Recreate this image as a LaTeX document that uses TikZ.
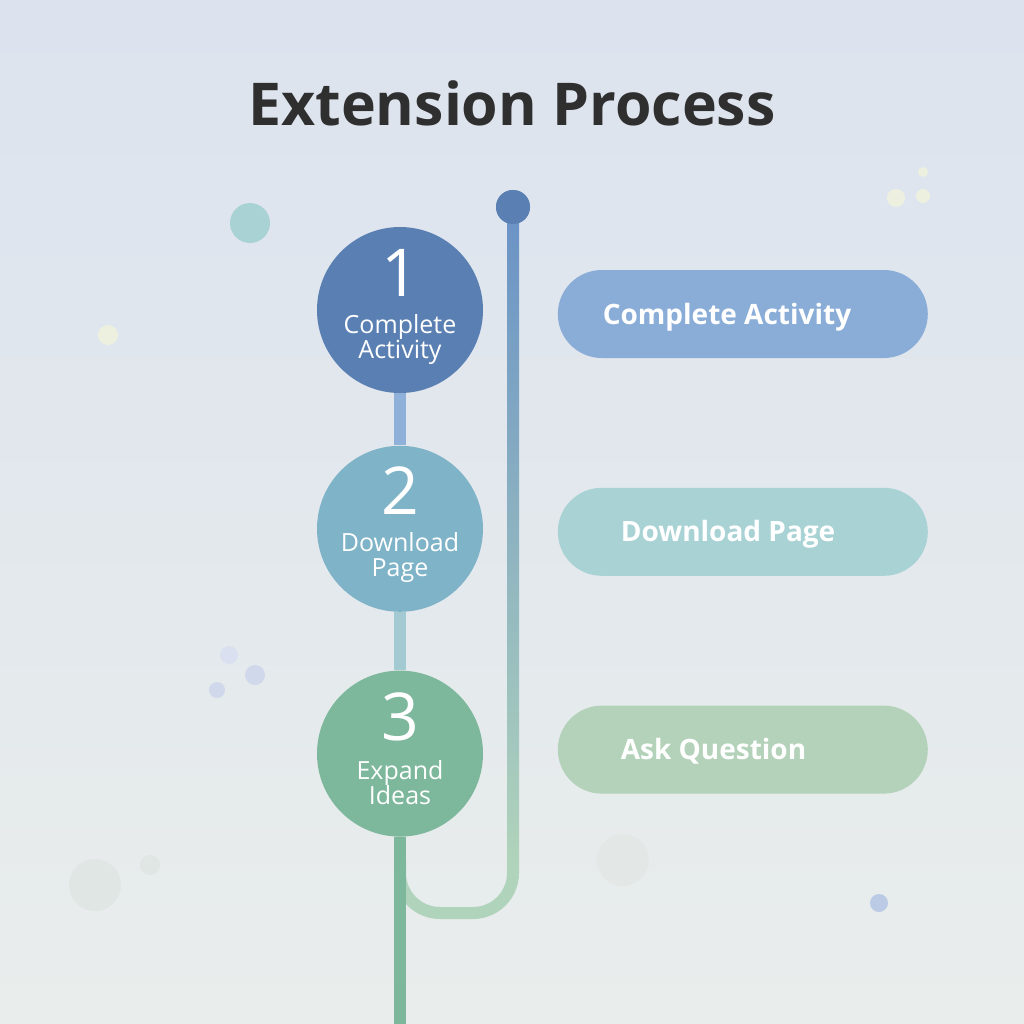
\documentclass[tikz,border=0pt]{standalone}
\usepackage{fontspec}
\setmainfont{Open Sans}
\usetikzlibrary{positioning}
\definecolor{bgtop}{HTML}{DCE3EE}
\definecolor{bgmid}{HTML}{E5E9EF}
\definecolor{bgbot}{HTML}{E9EDEC}
\definecolor{titlegray}{HTML}{2F2F2F}
\definecolor{stepblue}{HTML}{5A80B3}
\definecolor{stepteal}{HTML}{7FB3C7}
\definecolor{stepgreen}{HTML}{7DB79C}
\definecolor{pillblue}{HTML}{8AADD8}
\definecolor{pillteal}{HTML}{A9D2D5}
\definecolor{pillgreen}{HTML}{B4D2BA}
\definecolor{linkblue}{HTML}{8FB1D9}
\definecolor{linkteal}{HTML}{A3CAD2}
\definecolor{railtop}{HTML}{6A92C6}
\definecolor{railmid}{HTML}{9FC0D8}
\definecolor{railbot}{HTML}{B0D3BB}
\definecolor{dotpale}{HTML}{EEF0DF}
\definecolor{dotgray}{HTML}{E0E6E4}
\definecolor{dotlav}{HTML}{D0D8EB}
\begin{document}
\begin{tikzpicture}[
x=0.5pt, y=-0.5pt,
node distance=26pt and 37pt,
stepcirc/.style={circle, minimum size=83pt, inner sep=0pt},
num/.style={text=white, inner sep=0pt, font=\fontsize{33}{33}\selectfont, text height=23.5pt, text depth=0pt},
steplabel/.style={text=white, align=center, inner sep=0pt, font=\fontsize{12.5}{12.5}\selectfont},
pill/.style={rounded corners=22pt, minimum width=185pt, minimum height=44pt, inner sep=0pt},
pilltext/.style={anchor=west, text=white, inner sep=0pt, font=\bfseries\fontsize{14}{14}\selectfont, text height=10pt, text depth=0pt},
link/.style={line width=6pt}
]
% background
\shade[top color=bgtop, middle color=bgmid, bottom color=bgbot] (0,0) rectangle (1024,1024);
\useasboundingbox (0,0) rectangle (1024,1024);
% soft dots
\fill[pillteal] (250,223) circle (10pt);
\fill[dotpale] (108,335) circle (5pt);
\fill[dotlav!80] (229,655) circle (4.5pt);
\fill[dotlav] (255,675) circle (5pt);
\fill[dotlav] (217,690) circle (4pt);
\fill[dotgray] (95,885) circle (13pt);
\fill[dotgray] (150,865) circle (5pt);
\fill[dotgray!70!bgbot] (623,860) circle (13pt);
\fill[dotlav!70!pillblue] (879,903) circle (4.5pt);
\fill[dotpale] (896,198) circle (4.5pt);
\fill[dotpale] (923,196) circle (3.5pt);
\fill[dotpale] (923,172) circle (2.5pt);

\node[font=\bfseries\fontsize{29.5}{29.5}\selectfont, text=titlegray] (title) at (512,103) {Extension Process};

% rail on the right
\node[circle, fill=stepblue, minimum size=17pt, inner sep=0pt] (dot) at (513,207) {};
\coordinate (bend) at (513,860);
\coordinate (joint) at (400,860);
\shade[top color=railtop, middle color=railmid, bottom color=railbot] ([xshift=-3pt]dot.center) rectangle ([xshift=3pt]bend);
\draw[link, railbot, rounded corners=20pt] (bend) -- (513,913) -- (400,913) -- (joint);
\node[circle, fill=stepblue, minimum size=17pt, inner sep=0pt] at (dot) {};

% steps
\node[stepcirc, fill=stepblue] (c1) at (400,310) {};
\node[stepcirc, fill=stepteal, below=of c1] (c2) {};
\node[stepcirc, fill=stepgreen, below=29pt of c2] (c3) {};
\coordinate (end) at (400,1024);
\draw[link, linkblue] (c1.south) -- (c2.north);
\draw[link, linkteal] (c2.south) -- (c3.north);
\draw[link, stepgreen] (c3.south) -- (end);

\node[num] at ([yshift=18.5pt]c1.center) {1};
\node[steplabel] at ([yshift=-14.5pt]c1.center) {Complete\\Activity};
\node[num] at ([yshift=19pt]c2.center) {2};
\node[steplabel] at ([yshift=-14.5pt]c2.center) {Download\\Page};
\node[num] at ([yshift=18.5pt]c3.center) {3};
\node[steplabel] at ([yshift=-14.5pt]c3.center) {Expand\\Ideas};

% labels on the right
\node[pill, fill=pillblue, right=of c1, yshift=-2pt] (p1) {};
\node[pill, fill=pillteal, right=of c2, yshift=-1.5pt] (p2) {};
\node[pill, fill=pillgreen, right=of c3, yshift=2pt] (p3) {};
\node[pilltext] at ([xshift=22.5pt]p1.west) {Complete Activity};
\node[pilltext] at ([xshift=31.5pt]p2.west) {Download Page};
\node[pilltext] at ([xshift=31.5pt]p3.west) {Ask Question};
\end{tikzpicture}
\end{document}
